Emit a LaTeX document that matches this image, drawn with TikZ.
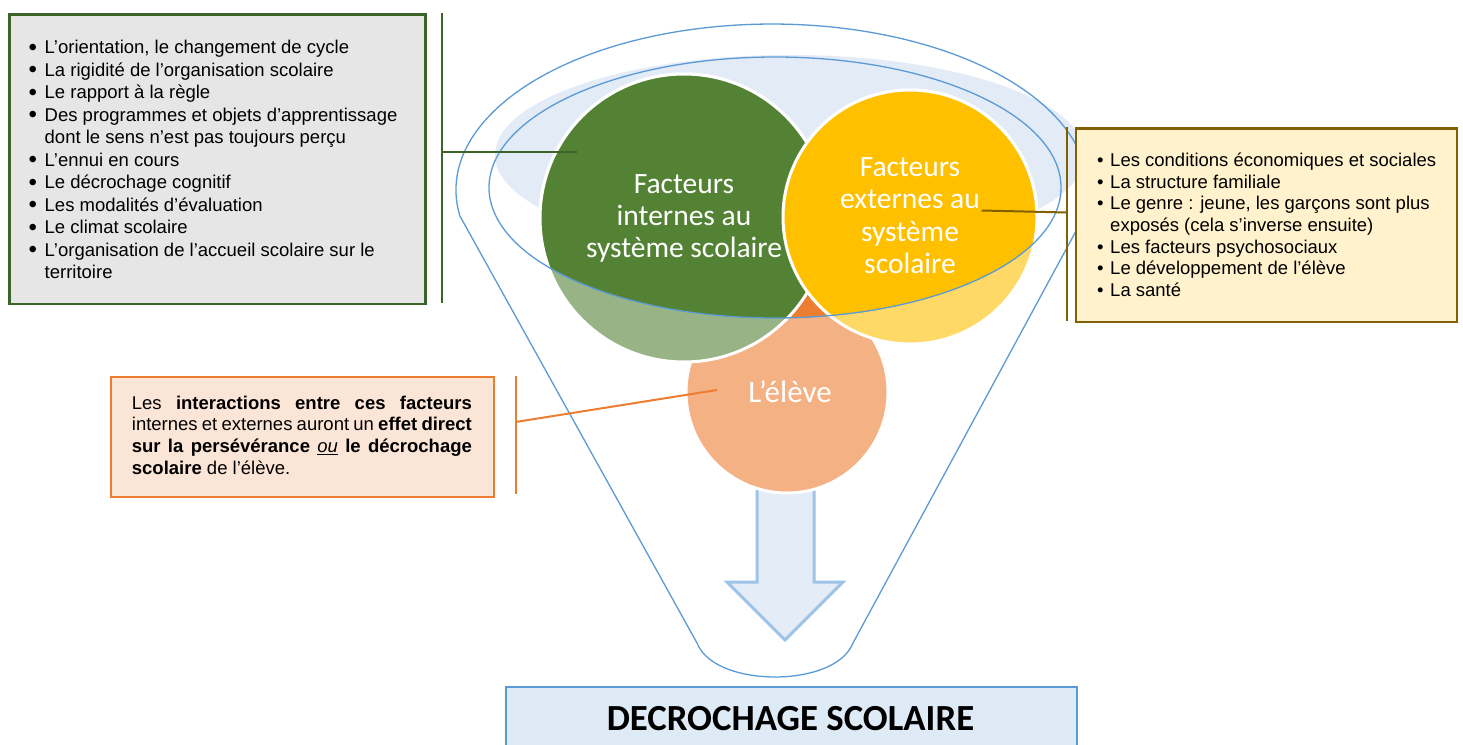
\documentclass[tikz,border=0pt]{standalone}
\usepackage{fontspec}
\setmainfont{Liberation Sans}
\newfontfamily\calibrifont{Carlito}
\definecolor{greenF}{HTML}{548235}
\definecolor{greenL}{HTML}{98B486}
\definecolor{yellowF}{HTML}{FFC000}
\definecolor{yellowL}{HTML}{FFD966}
\definecolor{orangeF}{HTML}{ED7D31}
\definecolor{orangeL}{HTML}{F4B183}
\definecolor{funnelblue}{HTML}{5B9BD5}
\definecolor{fillblue}{HTML}{E3EBF6}
\definecolor{arrowedge}{HTML}{9DC3E6}
\definecolor{arrowfill}{HTML}{E4ECF7}
\definecolor{titlefill}{HTML}{DEEBF7}
\definecolor{boxgreen}{HTML}{3D6428}
\definecolor{boxgray}{HTML}{E7E6E6}
\definecolor{boxgold}{HTML}{806000}
\definecolor{boxcream}{HTML}{FFF2CC}
\definecolor{boxpeach}{HTML}{FBE5D6}
\newcommand\myitem[4]{\par\hangindent=#1\hangafter=1\noindent\makebox[#1][l]{\raisebox{#3}{\scalebox{#2}{•}}}#4}
\tikzset{
  funnelline/.style={draw=funnelblue, line width=1.3},
  circbase/.style={circle, inner sep=0, draw=white, line width=3},
  circtext/.style={text=white, font=\calibrifont\fontsize{29.5}{32.2}\selectfont, inner sep=0, anchor=base},
  boxtext/.style={inner sep=0, anchor=base west},
  infobox/.style={rectangle, inner sep=0, anchor=north west, line width=2.3},
  bracketline/.style={line width=2},
}
\begin{document}
\begin{tikzpicture}[x=1pt,y=-1pt]
\clip (0,0) rectangle (1463,744);
\fill[white] (0,0) rectangle (1463,744);

% inner surface of the funnel
\fill[fillblue] (790,155) ellipse [x radius=295, y radius=100];

% funnel outline
\draw[funnelline] (459.9,216) arc[start angle=171, end angle=369, x radius=316, y radius=166]
  -- (853,643) .. controls (843,668) and (805,677) .. (775,677)
  .. controls (745,677) and (707,668) .. (697,643) -- cycle;

% down arrow
\filldraw[fill=arrowfill, draw=arrowedge, line width=3, line join=miter]
  (757,470) -- (757,582) -- (727,582) -- (785,640) -- (843,582) -- (814,582) -- (814,470) -- cycle;

% circles (light parts outside the ellipse)
\node[circbase, fill=orangeL, minimum size=202] (orange) at (787,392) {};
\node[circbase, fill=greenL, minimum size=288] (green) at (684,218) {};
\node[circbase, fill=yellowL, minimum size=254] (yellow) at (910,217) {};

% circles (full colour inside the ellipse)
\begin{scope}
  \clip (775,187.5) ellipse [x radius=286, y radius=130.5];
  \filldraw[fill=orangeF, draw=white, line width=3] (orange.center) circle [radius=101];
  \filldraw[fill=greenF, draw=white, line width=3] (green.center) circle [radius=144];
  \filldraw[fill=yellowF, draw=white, line width=3] (yellow.center) circle [radius=127];
\end{scope}

% ellipse outline
\draw[funnelline] (775,187.5) ellipse [x radius=286, y radius=130.5];

% circle labels
\node[circtext] (tgreen) at (684,193.3) {\parbox[t]{260pt}{\centering Facteurs\\internes au\\système scolaire}};
\node[circtext] (tyellow) at (910,176.7) {\parbox[t]{240pt}{\centering Facteurs\\externes au\\système\\scolaire}};
\node[circtext, font=\calibrifont\fontsize{31}{34}\selectfont] (torange) at (790,402) {L’élève};

% left box
\node[infobox, draw=boxgreen, fill=boxgray, minimum width=416, minimum height=289.4] (leftbox) at (8.3,13.3) {};
\node[boxtext] (lefttext) at (28.5,53.5) {\begin{minipage}[t]{390pt}\fontsize{18.5}{22.5}\selectfont\raggedright
\myitem{16pt}{1.3}{-0.1em}{L’orientation, le changement de cycle}
\myitem{16pt}{1.3}{-0.1em}{La rigidité de l’organisation scolaire}
\myitem{16pt}{1.3}{-0.1em}{Le rapport à la règle}
\myitem{16pt}{1.3}{-0.1em}{Des programmes et objets d’apprentissage\newline dont le sens n’est pas toujours perçu}
\myitem{16pt}{1.3}{-0.1em}{L’ennui en cours}
\myitem{16pt}{1.3}{-0.1em}{Le décrochage cognitif}
\myitem{16pt}{1.3}{-0.1em}{Les modalités d’évaluation}
\myitem{16pt}{1.3}{-0.1em}{Le climat scolaire}
\myitem{16pt}{1.3}{-0.1em}{L’organisation de l’accueil scolaire sur le\newline territoire}
\end{minipage}};
\coordinate (gTop) at (441.7,13.3);
\coordinate (gBot) at (441.7,302.7);
\coordinate (gMid) at (441.7,151.7);
\coordinate (gEnd) at (577,151.7);
\draw[bracketline, boxgreen] (gTop) -- (gBot);
\draw[bracketline, boxgreen] (gMid) -- (gEnd);

% right box
\node[infobox, draw=boxgold, fill=boxcream, minimum width=381, minimum height=193.4] (rightbox) at (1075,127.3) {};
\node[boxtext] (righttext) at (1097,166.5) {\begin{minipage}[t]{355pt}\fontsize{18.5}{21.67}\selectfont\raggedright
\myitem{13pt}{1}{0pt}{Les conditions économiques et sociales}
\myitem{13pt}{1}{0pt}{La structure familiale}
\myitem{13pt}{1}{0pt}{Le genre : jeune, les garçons sont plus\newline exposés (cela s’inverse ensuite)}
\myitem{13pt}{1}{0pt}{Les facteurs psychosociaux}
\myitem{13pt}{1}{0pt}{Le développement de l’élève}
\myitem{13pt}{1}{0pt}{La santé}
\end{minipage}};
\coordinate (yTop) at (1066.7,127.3);
\coordinate (yBot) at (1066.7,320.7);
\coordinate (yMid) at (1066.7,212.5);
\coordinate (yEnd) at (981.7,210.5);
\draw[bracketline, boxgold] (yTop) -- (yBot);
\draw[bracketline, boxgold] (yMid) -- (yEnd);

% bottom-left box
\node[infobox, draw=orangeF, fill=boxpeach, minimum width=382.7, minimum height=120] (notebox) at (110,375.5) {};
\node[boxtext] (notetext) at (131.7,409) {\begin{minipage}[t]{340pt}\fontsize{18.5}{21.67}\selectfont\tolerance=10000\hbadness=10000\noindent
Les \textbf{interactions entre ces facteurs}\linebreak
internes et externes auront un \textbf{effet direct}\linebreak
\textbf{sur la persévérance} \underline{\textit{ou}} \textbf{le décrochage}\linebreak
\textbf{scolaire} de l’élève.
\end{minipage}};
\coordinate (oTop) at (515.5,375.5);
\coordinate (oBot) at (515.5,494);
\coordinate (oMid) at (515.5,422);
\coordinate (oEnd) at (717,390);
\draw[bracketline, orangeF] (oTop) -- (oBot);
\draw[bracketline, orangeF] (oMid) -- (oEnd);

% title box
\node[infobox, draw=funnelblue, fill=titlefill, line width=2, minimum width=571, minimum height=80] (titlebox) at (505,686) {};
\node[anchor=base, inner sep=0, font=\calibrifont\bfseries\fontsize{36.8}{40}\selectfont] (title) at (790.5,730) {DECROCHAGE SCOLAIRE};
\end{tikzpicture}
\end{document}
